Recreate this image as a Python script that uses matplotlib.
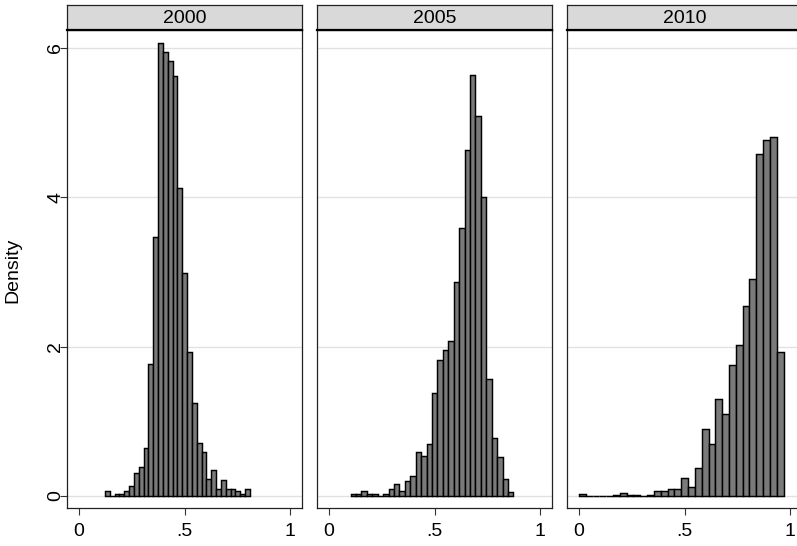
import numpy as np
import matplotlib
matplotlib.use("Agg")
import matplotlib.pyplot as plt

plt.rcParams['font.family'] = ['Liberation Sans', 'DejaVu Sans']

# panel titles
years = ["2000", "2005", "2010"]

# histogram bins: start of first bin and bin width for each year
bin_start = [0.123, 0.1025, 0.0]
bin_width = [0.0229, 0.0257, 0.0323]

# densities (30 bins per panel)
dens_2000 = [0.06, 0.0, 0.02, 0.02, 0.06, 0.14, 0.31, 0.39, 0.64, 1.77,
             3.47, 6.07, 5.95, 5.83, 5.62, 4.12, 2.99, 1.93, 1.25, 0.71,
             0.59, 0.23, 0.35, 0.10, 0.22, 0.10, 0.10, 0.06, 0.03, 0.10]
dens_2005 = [0.02, 0.02, 0.06, 0.02, 0.02, 0.0, 0.02, 0.09, 0.16, 0.06,
             0.20, 0.27, 0.59, 0.53, 0.70, 1.38, 1.82, 1.96, 2.07, 2.86,
             3.59, 4.63, 5.64, 5.09, 4.00, 1.57, 0.77, 0.52, 0.23, 0.05]
dens_2010 = [0.02, 0.0, 0.0, 0.0, 0.0, 0.01, 0.04, 0.01, 0.01, 0.0,
             0.01, 0.06, 0.06, 0.09, 0.09, 0.24, 0.12, 0.38, 0.90, 0.70,
             1.30, 1.10, 1.76, 2.02, 2.54, 2.91, 4.58, 4.77, 4.81, 1.93]
densities = [dens_2000, dens_2005, dens_2010]

x_ticks = [0, 0.5, 1]
x_tick_labels = ["0", ".5", "1"]
y_ticks = [0, 2, 4, 6]
y_tick_labels = ["0", "2", "4", "6"]

W, H = 797, 546
fig = plt.figure(figsize=(W / 100, H / 100), dpi=100)

# layout in pixels
lefts = [67.3, 317.3, 567.3]
panel_w = 234.4
plot_top, plot_bottom = 30, 508
strip_top = 4.7

for i in range(3):
    x0 = lefts[i] / W
    ax = fig.add_axes([x0, 1 - plot_bottom / H, panel_w / W, (plot_bottom - plot_top) / H])
    edges = bin_start[i] + bin_width[i] * np.arange(len(densities[i]))
    ax.bar(edges, densities[i], width=bin_width[i], align='edge',
           color='#7a7a7a', edgecolor='black', linewidth=1.05, zorder=3)
    ax.set_xlim(-0.055, 1.055)
    ax.set_ylim(-0.161, 6.241)
    ax.set_yticks(y_ticks)
    ax.grid(axis='y', color='#e1e1e1', linewidth=1.0, zorder=0)
    ax.set_xticks(x_ticks)
    ax.set_xticklabels(x_tick_labels)
    ax.tick_params(axis='x', length=5.3, width=0.8, color='#333333', pad=5.5, labelsize=14)
    if i == 0:
        ax.set_yticklabels(y_tick_labels, rotation=90, va='center')
        ax.tick_params(axis='y', length=5.3, width=0.8, color='#333333', pad=-3, labelsize=14)
    else:
        ax.tick_params(axis='y', length=0, labelleft=False)
    for s in ax.spines.values():
        s.set_color('#222222')
        s.set_linewidth(0.9)

    # header strip with the year
    sx = fig.add_axes([x0, 1 - plot_top / H, panel_w / W, (plot_top - strip_top) / H])
    sx.set_facecolor('#d9d9d9')
    sx.set_xticks([])
    sx.set_yticks([])
    for s in sx.spines.values():
        s.set_color('#222222')
        s.set_linewidth(0.9)
    sx.spines['bottom'].set_linewidth(1.6)
    sx.spines['bottom'].set_color('black')
    sx.text(0.5, 0.45, years[i], ha='center', va='center', fontsize=14,
            transform=sx.transAxes)

fig.text(13 / W, 1 - 270 / H, "Density", rotation=90, ha='center', va='center', fontsize=14)

fig.savefig("out.png", dpi=100)
